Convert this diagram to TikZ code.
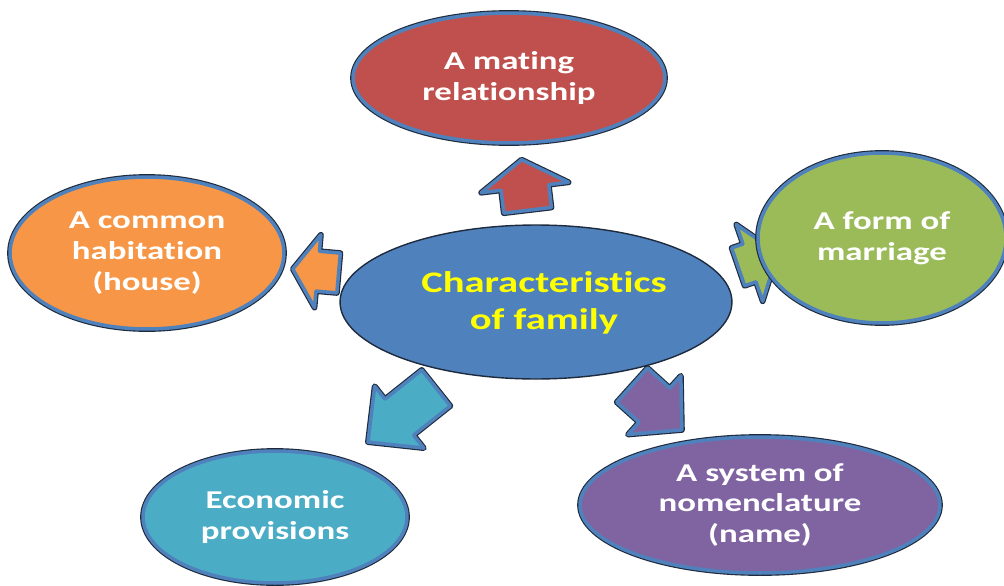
\documentclass[tikz,border=0pt]{standalone}
\usepackage{fontspec}
\newfontfamily\cf[FakeStretch=1.36, Ligatures={NoCommon}]{Carlito}
\usetikzlibrary{shapes.geometric}
\definecolor{cred}{HTML}{C0504D}
\definecolor{corange}{HTML}{F79646}
\definecolor{cgreen}{HTML}{9BBB59}
\definecolor{cteal}{HTML}{4BACC6}
\definecolor{cpurple}{HTML}{8064A2}
\definecolor{cblue}{HTML}{4F81BD}
\definecolor{cdark}{HTML}{1F2B3C}
\definecolor{cyellow}{HTML}{FFFF00}
\tikzset{
  rim/.style={draw=cblue, line width=2pt, line join=round,
    preaction={draw=cdark, line width=3.3pt, line join=round}},
  bubble/.style={ellipse, fill=#1, rim, inner sep=0pt, text=white,
    font=\cf\bfseries\fontsize{14.6}{17.6}\selectfont, align=center},
  hub/.style={ellipse, fill=cblue, draw=cdark, line width=0.8pt, inner sep=0pt},
  hubtext/.style={text=cyellow, font=\cf\bfseries\fontsize{17}{21}\selectfont, align=center},
  blockarrow/.style={fill=#1, rim},
}
% center x, center y, angle, length, shaft width, head width, head length, colour
\newcommand\blockarr[8]{%
  \begin{scope}[shift={(#1,#2)}, rotate=#3]
    \path[blockarrow=#8] (-#4/2,-#5/2) -- (#4/2-#7,-#5/2) -- (#4/2-#7,-#6/2)
      -- (#4/2,0) -- (#4/2-#7,#6/2) -- (#4/2-#7,#5/2) -- (-#4/2,#5/2) -- cycle;
  \end{scope}}
\begin{document}
\begin{tikzpicture}[x=0.02cm, y=-0.02cm]
\useasboundingbox (0,0) rectangle (1004,585);
% arrows (drawn first, behind the ellipses)
\blockarr{524.6}{185}{96.8}{51}{48}{88}{28}{cred}
\blockarr{315.7}{271}{175}{46}{40}{73}{25}{corange}
\blockarr{758}{260}{19}{42}{40}{81}{30}{cgreen}
\blockarr{402}{415}{218.5}{87}{46}{79}{40}{cteal}
\blockarr{657}{407.5}{-42}{67}{46}{79}{37}{cpurple}
% outer ellipses
\node[bubble=cred, minimum width=6.24cm, minimum height=2.6cm] (mating) at (509,78)
  {A mating\\relationship};
\node[bubble=corange, minimum width=5.48cm, minimum height=3.04cm] (house) at (147,253)
  {A common\\habitation\\(house)};
\node[bubble=cgreen, minimum width=4.96cm, minimum height=3.4cm] (marriage) at (882,238)
  {A form of\\marriage};
\node[bubble=cteal, minimum width=5.28cm, minimum height=2.64cm] (econ) at (275,517)
  {Economic\\provisions};
\node[bubble=cpurple, minimum width=7.2cm, minimum height=2.72cm] (name) at (760,505)
  {A system of\\nomenclature\\(name)};
% hub
\node[hub, minimum width=7.84cm, minimum height=3.08cm] (hub) at (536,302) {};
\node[hubtext] (hubtxt) at (544,303) {Characteristics\\of family};
\end{tikzpicture}
\end{document}
